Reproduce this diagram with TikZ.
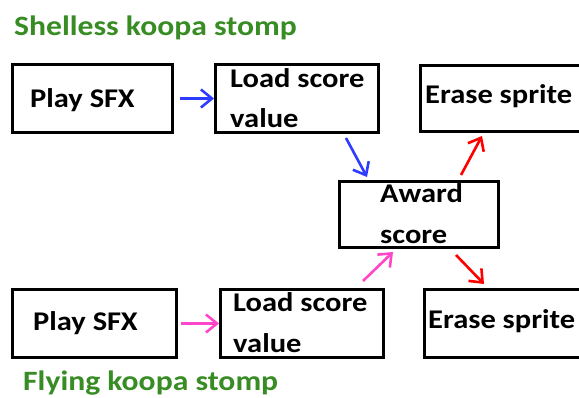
\documentclass[tikz,border=0pt]{standalone}
\usepackage{fontspec}
\setmainfont{Carlito}[FakeStretch=1.13]
\usetikzlibrary{arrows.meta,calc}
\definecolor{tgreen}{RGB}{56,140,36}
\definecolor{ablue}{RGB}{45,60,255}
\definecolor{apink}{RGB}{255,70,200}
\definecolor{ared}{RGB}{255,0,0}
\tikzset{
  box/.style={draw=black, line width=3pt, inner sep=0pt, anchor=north west},
  txt/.style={inner sep=0pt, anchor=base west, font=\fontsize{27}{40}\selectfont\bfseries},
  ttl/.style={inner sep=0pt, anchor=base west, text=tgreen, font=\fontsize{28}{34}\selectfont\bfseries},
  arr/.style={line width=2.6pt, -{Straight Barb[length=11pt,width=18pt,line width=2.6pt]}},
}
\begin{document}
\begin{tikzpicture}[x=1pt,y=-1pt]
\clip (0,0) rectangle (579,397);
\fill[white] (0,0) rectangle (579,397);
% titles
\node[ttl] (t1) at (14,35) {Shelless koopa stomp};
\node[ttl] (t2) at (23,390) {Flying koopa stomp};
% top row
\node[box, minimum width=160pt, minimum height=68pt] (b1) at (11,63) {};
\node[box, minimum width=163pt, minimum height=68pt] (b2) at (214,63) {};
\node[box, minimum width=171pt, minimum height=66pt] (b3) at (419,64) {};
% middle
\node[box, minimum width=159pt, minimum height=66pt] (aw) at (338,180) {};
% bottom row
\node[box, minimum width=164pt, minimum height=68pt] (c1) at (11,288) {};
\node[box, minimum width=163pt, minimum height=68pt] (c2) at (219,288) {};
\node[box, minimum width=167pt, minimum height=68pt] (c3) at (423,288) {};
% texts
\node[txt] (l1) at (30,107) {Play SFX};
\node[txt] (l2a) at (230,87) {Load score};
\node[txt] (l2b) at (230,127) {value};
\node[txt] (l3) at (425,103) {Erase sprite};
\node[txt] (la) at (380,202) {Award};
\node[txt] (lb) at (380,243) {score};
\node[txt] (m1) at (33,330) {Play SFX};
\node[txt] (m2a) at (233,311) {Load score};
\node[txt] (m2b) at (233,352) {value};
\node[txt] (m3) at (428,328) {Erase sprite};
% arrows
\draw[arr, ablue] ($(b1.east)+(6,0)$) -- (b2.west);
\draw[arr, ablue] ($(b2.south east)+(-34,4)$) -- ($(aw.north west)+(29,-3)$);
\draw[arr, ared] ($(aw.north east)+(-39,-5)$) -- ($(b3.south west)+(63,3)$);
\draw[arr, ared] ($(aw.south east)+(-44,6)$) -- ($(c3.north west)+(61,-4)$);
\draw[arr, apink] ($(c1.east)+(3,0)$) -- (c2.west);
\draw[arr, apink] ($(c2.north east)+(-22,-7)$) -- ($(aw.south west)+(55,3)$);
\end{tikzpicture}
\end{document}
